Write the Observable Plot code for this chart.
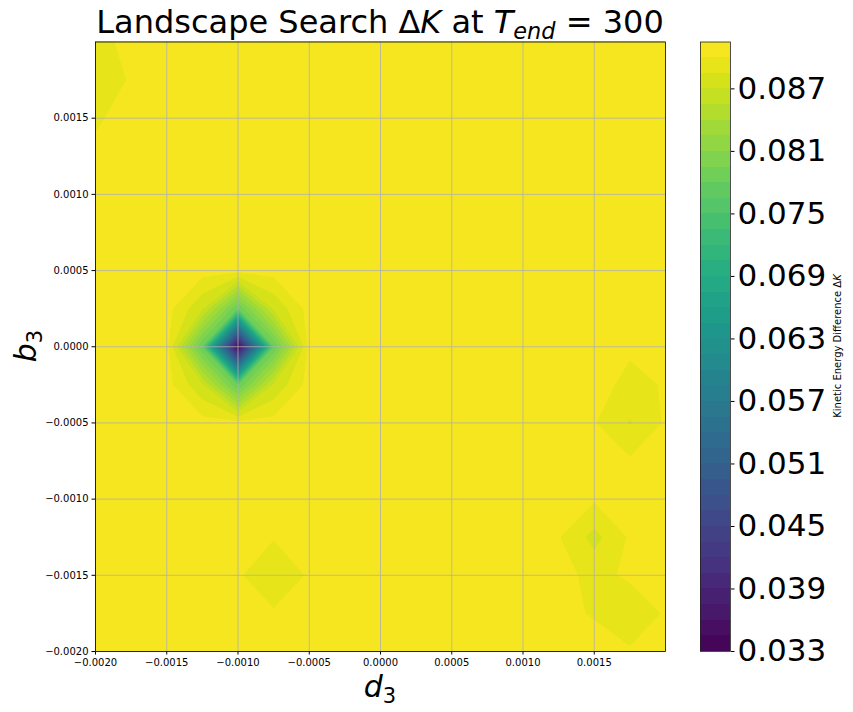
<!DOCTYPE html>
<html><head><meta charset="utf-8">
<script src="https://cdn.jsdelivr.net/npm/d3@7"></script>
<script src="https://cdn.jsdelivr.net/npm/@observablehq/plot@0.6"></script>
<style>
body{margin:0;background:#fff;font-family:"DejaVu Sans",sans-serif;}
#wrap{position:relative;width:853px;height:712px;overflow:hidden;background:#fff;}
#wrap svg{position:absolute;left:0;top:0;}
.t{position:absolute;white-space:nowrap;color:#000;font-family:"DejaVu Sans",sans-serif;}
.t sub{font-size:0.7em;vertical-align:-0.28em;line-height:0;}
</style></head><body>
<div id="wrap">
  <div class="t" id="title" style="left:380px;top:6px;font-size:32px;line-height:32px;transform:translateX(-50%);">Landscape Search Δ<i>K</i> at <i>T</i><sub><i>end</i></sub> = 300</div>
  <div class="t" id="xlab" style="left:380px;top:672px;font-size:30px;line-height:30px;transform:translateX(-50%);"><i>d</i><sub>3</sub></div>
  <div class="t" id="ylab" style="left:26px;top:346px;font-size:30px;line-height:30px;transform:translate(-50%,-50%) rotate(-90deg);"><i>b</i><sub>3</sub></div>
  <div class="t" id="cblab" style="left:838px;top:346px;font-size:10px;line-height:10px;transform:translate(-50%,-50%) rotate(-90deg);">Kinetic Energy Difference Δ<i>K</i></div>
</div>
<script>
// grid coordinates (d3 along x, b3 along y)
const d3Grid = [-0.002,-0.00175,-0.0015,-0.00125,-0.001,-0.00075,-0.0005,-0.00025,0,0.00025,0.0005,0.00075,0.001,0.00125,0.0015,0.00175,0.002];
const b3Grid = [-0.002,-0.00175,-0.0015,-0.00125,-0.001,-0.00075,-0.0005,-0.00025,0,0.00025,0.0005,0.00075,0.001,0.00125,0.0015,0.00175,0.002];
// ΔK values, one row per b3 (row 0 = b3 -0.002), columns follow d3Grid
const deltaK = [
  [0.0906,0.0906,0.0906,0.0906,0.0906,0.0906,0.0906,0.0906,0.0906,0.0906,0.0906,0.0906,0.0906,0.0906,0.0910,0.0902,0.0906],
  [0.0906,0.0906,0.0906,0.0906,0.0906,0.0902,0.0906,0.0906,0.0906,0.0906,0.0906,0.0906,0.0906,0.0906,0.0898,0.0888,0.0902],
  [0.0906,0.0906,0.0906,0.0906,0.0902,0.0888,0.0902,0.0906,0.0906,0.0906,0.0906,0.0906,0.0906,0.0906,0.0895,0.0903,0.0906],
  [0.0906,0.0906,0.0906,0.0906,0.0906,0.0901,0.0906,0.0906,0.0906,0.0906,0.0906,0.0906,0.0906,0.0901,0.0880,0.0902,0.0906],
  [0.0906,0.0906,0.0906,0.0906,0.0906,0.0906,0.0906,0.0906,0.0906,0.0906,0.0906,0.0906,0.0906,0.0906,0.0902,0.0906,0.0906],
  [0.0906,0.0906,0.0906,0.0906,0.0906,0.0906,0.0906,0.0906,0.0906,0.0906,0.0906,0.0906,0.0906,0.0906,0.0906,0.0902,0.0906],
  [0.0906,0.0906,0.0906,0.0906,0.0906,0.0906,0.0906,0.0906,0.0906,0.0906,0.0906,0.0906,0.0906,0.0906,0.0901,0.0884,0.0902],
  [0.0906,0.0906,0.0906,0.0872,0.0779,0.0872,0.0906,0.0906,0.0906,0.0906,0.0906,0.0906,0.0906,0.0906,0.0910,0.0893,0.0902],
  [0.0906,0.0906,0.0906,0.0779,0.0334,0.0779,0.0906,0.0906,0.0906,0.0906,0.0906,0.0906,0.0906,0.0906,0.0906,0.0904,0.0906],
  [0.0906,0.0906,0.0906,0.0872,0.0779,0.0872,0.0906,0.0906,0.0906,0.0906,0.0906,0.0906,0.0906,0.0906,0.0906,0.0906,0.0906],
  [0.0906,0.0906,0.0906,0.0906,0.0906,0.0906,0.0906,0.0906,0.0906,0.0906,0.0906,0.0906,0.0906,0.0906,0.0906,0.0906,0.0906],
  [0.0906,0.0906,0.0906,0.0906,0.0906,0.0906,0.0906,0.0906,0.0906,0.0906,0.0906,0.0906,0.0906,0.0906,0.0906,0.0906,0.0906],
  [0.0906,0.0906,0.0906,0.0906,0.0906,0.0906,0.0906,0.0906,0.0906,0.0906,0.0906,0.0906,0.0906,0.0906,0.0906,0.0906,0.0906],
  [0.0905,0.0906,0.0906,0.0906,0.0906,0.0906,0.0906,0.0906,0.0906,0.0906,0.0906,0.0906,0.0906,0.0906,0.0906,0.0906,0.0906],
  [0.0897,0.0909,0.0906,0.0906,0.0906,0.0906,0.0906,0.0906,0.0906,0.0906,0.0906,0.0906,0.0906,0.0906,0.0906,0.0906,0.0906],
  [0.0888,0.0902,0.0906,0.0906,0.0906,0.0906,0.0906,0.0906,0.0906,0.0906,0.0906,0.0906,0.0906,0.0906,0.0906,0.0906,0.0906],
  [0.0893,0.0906,0.0906,0.0906,0.0906,0.0906,0.0906,0.0906,0.0906,0.0906,0.0906,0.0906,0.0906,0.0906,0.0906,0.0906,0.0906]
];
// contour levels
const levels = [0.0330,0.0345,0.0360,0.0375,0.0390,0.0405,0.0420,0.0435,0.0450,0.0465,0.0480,0.0495,0.0510,0.0525,0.0540,0.0555,0.0570,0.0585,0.0600,0.0615,0.0630,0.0645,0.0660,0.0675,0.0690,0.0705,0.0720,0.0735,0.0750,0.0765,0.0780,0.0795,0.0810,0.0825,0.0840,0.0855,0.0870,0.0885,0.0900,0.0915];
// tick labels
const axisTicks = [-0.002,-0.0015,-0.001,-0.0005,0,0.0005,0.001,0.0015];
const cbarTicks = [0.033,0.039,0.045,0.051,0.057,0.063,0.069,0.075,0.081,0.087];

const fmt = d => (d < 0 ? "\u2212" : "") + Math.abs(d).toFixed(4);
const step = d3Grid[1] - d3Grid[0];
const bandHalf = (levels[1] - levels[0]) / 2;
const colorOpts = {type: "linear", scheme: "viridis", domain: [levels[0] - bandHalf, levels[levels.length - 1] - bandHalf]};

const main = Plot.plot({
  width: 700, height: 712,
  marginLeft: 95, marginRight: 35, marginTop: 41.5, marginBottom: 61,
  style: {fontFamily: "DejaVu Sans", fontSize: "10px", color: "black", background: "transparent"},
  x: {domain: [-0.002, 0.002], ticks: axisTicks, tickFormat: fmt, label: null, tickSize: 3.5, tickPadding: 3.5},
  y: {domain: [-0.002, 0.002], ticks: axisTicks, tickFormat: fmt, label: null, tickSize: 3.5, tickPadding: 3.5},
  color: colorOpts,
  marks: [
    Plot.contour(deltaK.flat(), {
      width: d3Grid.length, height: b3Grid.length,
      x1: d3Grid[0] - step / 2, x2: d3Grid[d3Grid.length - 1] + step / 2,
      y1: b3Grid[0] - step / 2, y2: b3Grid[b3Grid.length - 1] + step / 2,
      thresholds: levels.slice(0, -1),
      fill: Plot.identity, stroke: "none", clip: true
    }),
    Plot.gridX(axisTicks, {stroke: "#b0b0b0", strokeOpacity: 1, strokeWidth: 0.8}),
    Plot.gridY(axisTicks, {stroke: "#b0b0b0", strokeOpacity: 1, strokeWidth: 0.8}),
    Plot.frame({stroke: "black", strokeWidth: 0.8})
  ]
});

const bands = levels.slice(0, -1).map((lo, k) => ({lo, hi: levels[k + 1]}));
const cbar = Plot.plot({
  width: 853, height: 712,
  marginLeft: 700, marginRight: 123, marginTop: 41.5, marginBottom: 61,
  style: {fontFamily: "DejaVu Sans", fontSize: "31px", color: "black", background: "transparent"},
  y: {domain: [levels[0], levels[levels.length - 1]], ticks: cbarTicks, tickFormat: d3.format(".3f"), axis: "right", label: null, tickSize: 3.5, tickPadding: 3.5},
  color: colorOpts,
  marks: [
    Plot.rect(bands, {y1: "lo", y2: "hi", fill: "lo", shapeRendering: "crispEdges"}),
    Plot.frame({stroke: "#222", strokeWidth: 0.8})
  ]
});

const wrap = document.getElementById("wrap");
wrap.insertBefore(cbar, wrap.firstChild);
wrap.insertBefore(main, wrap.firstChild);
</script>
</body></html>
